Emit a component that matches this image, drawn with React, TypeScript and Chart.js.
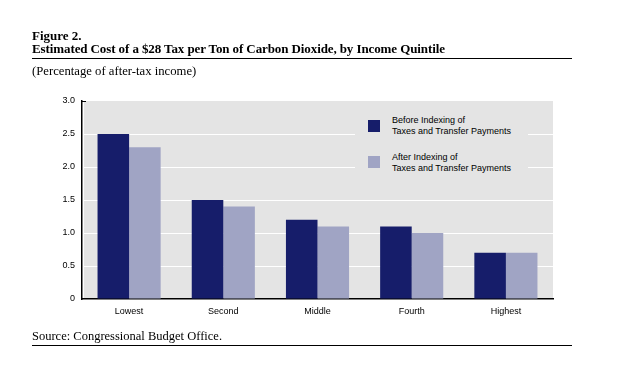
import React, { useEffect, useRef } from "react";
import { Chart, registerables } from "chart.js";

Chart.register(...registerables);

const categories = ["Lowest", "Second", "Middle", "Fourth", "Highest"];
const beforeIndexing = [2.5, 1.5, 1.2, 1.1, 0.7];
const afterIndexing = [2.3, 1.4, 1.1, 1.0, 0.7];
const seriesLabels = [
  ["Before Indexing of", "Taxes and Transfer Payments"],
  ["After Indexing of", "Taxes and Transfer Payments"],
];
const seriesColors = ["#161d6a", "#a0a4c4"];
const yTicks = [0, 0.5, 1.0, 1.5, 2.0, 2.5, 3.0];

const PLOT_BG = "#e4e4e4";

const serif = "'Liberation Serif', 'Times New Roman', serif";
const sans = "'Liberation Sans', Arial, sans-serif";

export default function App() {
  const ref = useRef<HTMLCanvasElement | null>(null);

  useEffect(() => {
    if (!ref.current) return;
    const bgPlugin = {
      id: "bg",
      beforeDraw(chart: any) {
        const { ctx, chartArea } = chart;
        ctx.save();
        ctx.fillStyle = PLOT_BG;
        ctx.fillRect(chartArea.left + 2, chartArea.top, chartArea.right - chartArea.left - 2, chartArea.bottom - chartArea.top);
        ctx.restore();
      },
      afterDraw(chart: any) {
        const { ctx, chartArea } = chart;
        const y = chart.scales.y.getPixelForValue(3);
        ctx.save();
        ctx.strokeStyle = "#000";
        ctx.lineWidth = 1;
        ctx.beginPath();
        ctx.moveTo(chartArea.left, Math.round(y) + 0.5);
        ctx.lineTo(chartArea.left + 4, Math.round(y) + 0.5);
        ctx.stroke();
        ctx.restore();
      },
    };
    const chart = new Chart(ref.current, {
      type: "bar",
      data: {
        labels: categories,
        datasets: [
          { label: seriesLabels[0].join(" "), data: beforeIndexing, backgroundColor: seriesColors[0], categoryPercentage: 0.67, barPercentage: 1.0 },
          { label: seriesLabels[1].join(" "), data: afterIndexing, backgroundColor: seriesColors[1], categoryPercentage: 0.67, barPercentage: 1.0 },
        ],
      },
      options: {
        responsive: false,
        animation: false,
        layout: { padding: { top: 101, right: 76, bottom: 0, left: 0 } },
        plugins: { legend: { display: false }, tooltip: { enabled: false } },
        scales: {
          x: {
            grid: { display: false, drawTicks: false },
            border: { display: true, color: "#000", width: 1.5 },
            ticks: { color: "#000", font: { family: sans, size: 9 }, padding: 7 },
            afterFit(scale: any) {
              scale.height = 75;
            },
          },
          y: {
            min: 0,
            max: 3,
            afterBuildTicks(scale: any) {
              scale.ticks = yTicks.map((v) => ({ value: v }));
            },
            grid: {
              drawTicks: false,
              color: (c: any) => (c.tick && c.tick.value > 0 && c.tick.value < 3 ? "#ffffff" : "rgba(0,0,0,0)"),
              lineWidth: 1,
            },
            border: { display: true, color: "#000", width: 1.5 },
            ticks: {
              color: "#000",
              font: { family: sans, size: 9 },
              padding: 7,
              callback: (v: any) => (Number(v) === 0 ? "0" : Number(v).toFixed(1)),
            },
            afterFit(scale: any) {
              scale.width = 82;
            },
          },
        },
      },
      plugins: [bgPlugin],
    });
    return () => chart.destroy();
  }, []);

  const rule = (top: number) => (
    <div style={{ position: "absolute", left: 32, top, width: 540, height: 0, borderTop: "1px solid #000" }} />
  );

  return (
    <div style={{ position: "absolute", left: 0, top: 0, width: 629, height: 374, background: "#fff", overflow: "hidden" }}>
      <canvas ref={ref} width={629} height={374} style={{ position: "absolute", left: 0, top: 0 }} />
      <div style={{ position: "absolute", left: 32, top: 29, font: `bold 13px/13px ${serif}`, color: "#000", whiteSpace: "nowrap" }}>
        Figure 2.
      </div>
      <div style={{ position: "absolute", left: 32, top: 42.4, font: `bold 13px/13px ${serif}`, color: "#000", whiteSpace: "nowrap", letterSpacing: "-0.1px" }}>
        Estimated Cost of a $28 Tax per Ton of Carbon Dioxide, by Income Quintile
      </div>
      {rule(58)}
      <div style={{ position: "absolute", left: 32, top: 65.4, font: `12.7px/12.7px ${serif}`, color: "#000", whiteSpace: "nowrap" }}>
        (Percentage of after-tax income)
      </div>
      <div style={{ position: "absolute", left: 355, top: 112, width: 173, height: 64, background: PLOT_BG }}>
        {seriesLabels.map((lines, i) => (
          <div key={i}>
            <div style={{ position: "absolute", left: 13, top: 8 + i * 36, width: 12, height: 12, background: seriesColors[i] }} />
            <div style={{ position: "absolute", left: 37, top: 2.7 + i * 37.7, font: `9px/11px ${sans}`, color: "#000", whiteSpace: "nowrap" }}>
              {lines.map((l, j) => (
                <div key={j}>{l}</div>
              ))}
            </div>
          </div>
        ))}
      </div>
      <div style={{ position: "absolute", left: 32, top: 329.5, font: `12.5px/12.5px ${serif}`, color: "#000", whiteSpace: "nowrap" }}>
        Source: Congressional Budget Office.
      </div>
      {rule(345)}
    </div>
  );
}
